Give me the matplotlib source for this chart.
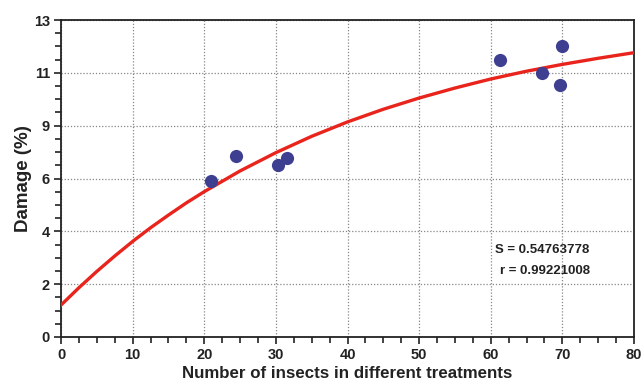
import numpy as np
import matplotlib
matplotlib.use("Agg")
import matplotlib.pyplot as plt
from matplotlib.ticker import FixedLocator, MultipleLocator, FuncFormatter

plt.rcParams['font.family'] = ['Liberation Sans Narrow', 'Liberation Sans', 'DejaVu Sans']

# observed points
insects = [21.0, 24.4, 30.3, 31.6, 61.3, 67.2, 70.0, 69.6]
damage = [6.41, 7.44, 7.05, 7.33, 11.36, 10.82, 11.95, 10.32]

# fitted curve
curve_x = [0, 2.5, 5, 7.5, 10, 12.5, 15, 17.5, 20, 25, 30, 35, 40, 45, 50, 55, 60, 65, 70, 75, 80]
curve_y = [1.31, 2.02, 2.69, 3.32, 3.92, 4.48, 5.00, 5.50, 5.96, 6.81, 7.56, 8.23, 8.82,
           9.34, 9.80, 10.21, 10.58, 10.90, 11.18, 11.43, 11.66]

fig = plt.figure(figsize=(6.42, 3.88), dpi=100)
ax = fig.add_axes([61 / 642, 1 - 337 / 388, (634 - 61) / 642, (337 - 20) / 388])

ax.plot(curve_x, curve_y, color="#e8241c", linewidth=2.4, zorder=3,
        solid_joinstyle="round")
ax.plot(insects, damage, linestyle="none", marker="o", markersize=9.5,
        color="#3f3f92", markeredgewidth=0, zorder=4)

ax.set_xlim(0, 80)
ax.set_ylim(0, 13)

# y ticks: 6 equal steps, labels rounded to whole numbers
yt = [13 * i / 6 for i in range(7)]
ax.yaxis.set_major_locator(FixedLocator(yt))
ax.yaxis.set_major_formatter(FuncFormatter(lambda v, p: "%.0f" % v))
ax.yaxis.set_minor_locator(FixedLocator([13 * i / 24 for i in range(25)]))
ax.xaxis.set_major_locator(MultipleLocator(10))
ax.xaxis.set_minor_locator(MultipleLocator(2.5))

ax.tick_params(which="both", direction="out", width=1.2, color="#222222")
ax.tick_params(which="major", length=5)
ax.tick_params(which="minor", length=4)
ax.tick_params(axis="both", labelsize=10.5, pad=3)
for lab in ax.get_xticklabels() + ax.get_yticklabels():
    lab.set_fontweight("bold")
    lab.set_color("#222222")

ax.grid(True, which="major", linestyle=(0, (1, 1.5)), color="#888888", linewidth=0.9)
ax.set_axisbelow(True)
for s in ax.spines.values():
    s.set_linewidth(1.3)
    s.set_color("#222222")

ax.set_xlabel("Number of insects in different treatments", fontsize=12.2,
              fontweight="bold", color="#222222", labelpad=3)
ax.set_ylabel("Damage (%)", fontsize=13.5, fontweight="bold",
              color="#222222", labelpad=1)

ax.text(0.757, 0.276, "S = 0.54763778", transform=ax.transAxes, fontsize=9.5,
        fontweight="bold", color="#222222", ha="left", va="center")
ax.text(0.767, 0.207, "r = 0.99221008", transform=ax.transAxes, fontsize=9.5,
        fontweight="bold", color="#222222", ha="left", va="center")

fig.savefig("out.png", dpi=100)
